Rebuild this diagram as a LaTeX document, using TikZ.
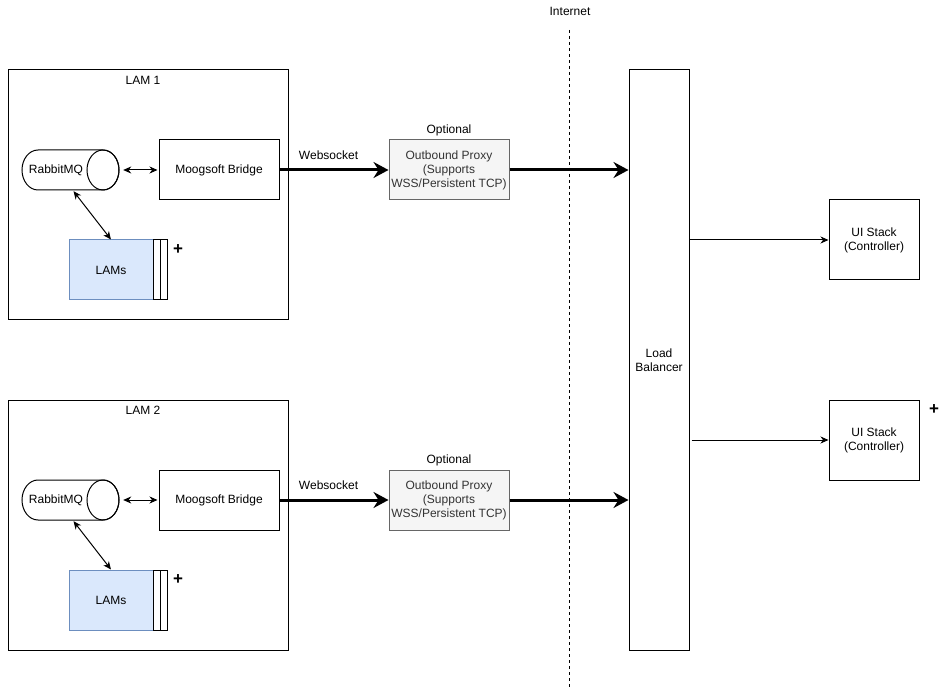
\documentclass[tikz,border=0pt]{standalone}
\usepackage{fontspec}
\setmainfont{Liberation Sans}
\usetikzlibrary{arrows.meta,calc}
\definecolor{lamfill}{HTML}{DAE8FC}
\definecolor{lamdraw}{HTML}{6C8EBF}
\definecolor{proxyfill}{HTML}{F5F5F5}
\definecolor{proxydraw}{HTML}{666666}
\definecolor{proxytext}{HTML}{333333}
\tikzset{
  txt/.style={font=\fontsize{12}{14}\selectfont, inner sep=0pt, align=center},
  boxstyle/.style={draw=black, fill=white, line width=1pt, inner sep=0pt, txt},
  thinarrow/.style={line width=1pt, -{Stealth[length=8pt,width=7pt,inset=2.5pt]}},
  thinboth/.style={line width=1pt, {Stealth[length=8pt,width=7pt,inset=2.5pt]}-{Stealth[length=8pt,width=7pt,inset=2.5pt]}},
  thickarrow/.style={line width=3pt, -{Stealth[length=15pt,width=16pt,inset=5pt]}},
  plus/.style={font=\fontsize{17}{17}\selectfont\bfseries, inner sep=0pt},
}
\begin{document}
\begin{tikzpicture}[x=1pt,y=1pt]
\useasboundingbox (0,0) rectangle (950,-692);
% Internet divider
\node[txt] (internet) at (570,-11) {Internet};
\coordinate (divtop) at (569,-30);
\coordinate (divbot) at (569,-688);
\draw[line width=1pt, dash pattern=on 3pt off 3pt] (divtop) -- (divbot);
% Load balancer
\node[boxstyle, minimum width=60pt, minimum height=580pt] (lb) at (659,-360) {Load\\Balancer};
% UI stacks
\node[boxstyle, minimum width=90pt, minimum height=80pt] (ui1) at (874,-240) {UI Stack\\(Controller)};
\node[boxstyle, minimum width=90pt, minimum height=80pt] (ui2) at (874,-440) {UI Stack\\(Controller)};
\node[plus] (plusui) at (934,-410) {+};
\draw[thinarrow] (lb.east |- ui1.west) -- (ui1.west);
\draw[thinarrow] ([xshift=2pt]lb.east |- ui2.west) -- (ui2.west);
\foreach \i/\dy in {1/0,2/-330}{
  \begin{scope}[yshift=\dy pt]
  \node[boxstyle, minimum width=280pt, minimum height=250pt] (lam\i) at (148,-195) {};
  \node[txt] (lamlabel\i) at (143,-80) {LAM \i};
  % RabbitMQ cylinder
  \node[minimum width=97pt, minimum height=40pt, inner sep=0pt] (rmq\i) at (70.5,-170) {};
  \draw[line width=1pt, fill=white] (38,-150) -- (103,-150)
     arc[start angle=90,end angle=-90,x radius=16,y radius=20] -- (38,-190)
     arc[start angle=-90,end angle=-270,x radius=16,y radius=20] -- cycle;
  \draw[line width=1pt] (103,-170) ellipse[x radius=16,y radius=20];
  \node[txt] (rmqtext\i) at (56,-170) {RabbitMQ};
  % Bridge
  \node[boxstyle, minimum width=120pt, minimum height=60pt] (bridge\i) at (219,-170) {Moogsoft Bridge};
  \draw[thinboth, shorten <=4pt, shorten >=1pt] (rmq\i.east) -- (bridge\i.west);
  % LAMs stack
  \node[txt, draw=lamdraw, fill=lamfill, line width=1pt, minimum width=84pt, minimum height=60pt] (lams\i) at (111,-270) {LAMs};
  \draw[line width=1pt, fill=white] (153,-240) rectangle (160,-300);
  \draw[line width=1pt, fill=white] (160,-240) rectangle (167,-300);
  \node[plus] (pluslam\i) at (178,-250) {+};
  \draw[thinboth] ([xshift=3pt,yshift=-1pt]rmq\i.south) -- (lams\i.north);
  % Proxy
  \node[txt, draw=proxydraw, fill=proxyfill, line width=1pt, text=proxytext, minimum width=120pt, minimum height=60pt] (proxy\i) at (449,-170) {Outbound Proxy\\(Supports\\WSS/Persistent TCP)};
  \node[txt] (optional\i) at (449,-130) {Optional};
  \draw[thickarrow] (bridge\i.east) -- node[txt, pos=0.45, yshift=15pt] (ws\i) {Websocket} (proxy\i.west);
  \draw[thickarrow] (proxy\i.east) -- (lb.west |- proxy\i.east);
  \end{scope}
}
\end{tikzpicture}
\end{document}
